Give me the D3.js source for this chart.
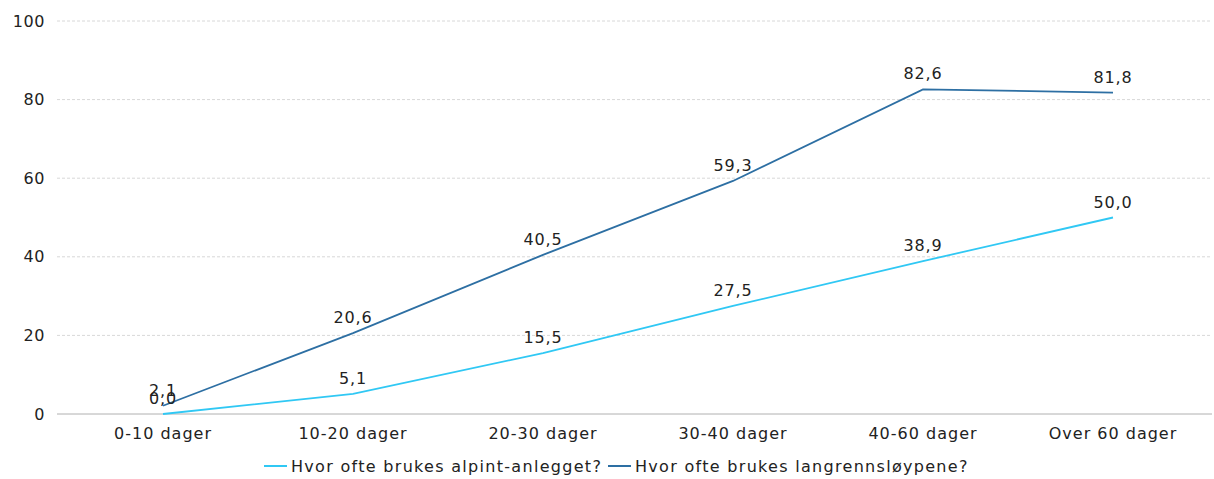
<!DOCTYPE html>
<html>
<head>
<meta charset="utf-8">
<script src="https://cdn.jsdelivr.net/npm/d3@7"></script>
<style>
  body { margin: 0; background: #fff; }
  text { font-family: "DejaVu Sans", Verdana, sans-serif; fill: #222; }
</style>
</head>
<body>
<svg id="chart" width="1214" height="479"></svg>
<script>
const categories = ["0-10 dager", "10-20 dager", "20-30 dager", "30-40 dager", "40-60 dager", "Over 60 dager"];
const alpint = [0.0, 5.1, 15.5, 27.5, 38.9, 50.0];
const langrenn = [2.1, 20.6, 40.5, 59.3, 82.6, 81.8];
const yTicks = [0, 20, 40, 60, 80, 100];
const seriesNames = ["Hvor ofte brukes alpint-anlegget?", "Hvor ofte brukes langrennsløypene?"];
const seriesColors = ["#30c8f4", "#2d6fa3"];

const svg = d3.select("#chart");
const plot = { left: 57, right: 1212, top: 21, bottom: 414 };
const fontSize = 16;

const x = d3.scalePoint().domain(categories).range([163, 1113]);
const y = d3.scaleLinear().domain([0, 100]).range([plot.bottom, plot.top]);

// horizontal grid
svg.append("g").selectAll("line").data(yTicks.filter(d => d > 0)).join("line")
  .attr("x1", plot.left).attr("x2", plot.right)
  .attr("y1", d => y(d)).attr("y2", d => y(d))
  .attr("stroke", "#d8d8d8").attr("stroke-dasharray", "3,2");

// baseline
svg.append("line").attr("x1", plot.left).attr("x2", plot.right)
  .attr("y1", y(0)).attr("y2", y(0)).attr("stroke", "#b0b0b0");

// y labels
svg.append("g").selectAll("text").data(yTicks).join("text")
  .attr("x", 45).attr("y", d => y(d)).attr("dy", "0.35em")
  .attr("text-anchor", "end").attr("font-size", fontSize)
  .attr("letter-spacing", 0.6)
  .text(d => d);

// x labels
svg.append("g").selectAll("text").data(categories).join("text")
  .attr("x", d => x(d)).attr("y", 439)
  .attr("text-anchor", "middle").attr("font-size", fontSize)
  .attr("letter-spacing", 1)
  .text(d => d);

const series = [alpint, langrenn];
const line = d3.line().x((d, i) => x(categories[i])).y(d => y(d));

series.forEach((vals, s) => {
  svg.append("path").datum(vals)
    .attr("d", line).attr("fill", "none")
    .attr("stroke", seriesColors[s]).attr("stroke-width", 1.8);
});

series.forEach((vals, s) => {
  svg.append("g").selectAll("text").data(vals).join("text")
    .attr("x", (d, i) => x(categories[i]))
    .attr("y", d => y(d) - 10)
    .attr("text-anchor", "middle").attr("font-size", fontSize)
    .attr("letter-spacing", 0.8)
    .text(d => d.toFixed(1).replace(".", ","));
});

// legend
const legendX = [264, 608];
legendX.forEach((lx, s) => {
  svg.append("line").attr("x1", lx).attr("x2", lx + 23)
    .attr("y1", 466).attr("y2", 466)
    .attr("stroke", seriesColors[s]).attr("stroke-width", 2);
  svg.append("text").attr("x", lx + 27).attr("y", 466).attr("dy", "0.35em")
    .attr("font-size", fontSize).attr("letter-spacing", 1.3)
    .text(seriesNames[s]);
});
</script>
</body>
</html>
